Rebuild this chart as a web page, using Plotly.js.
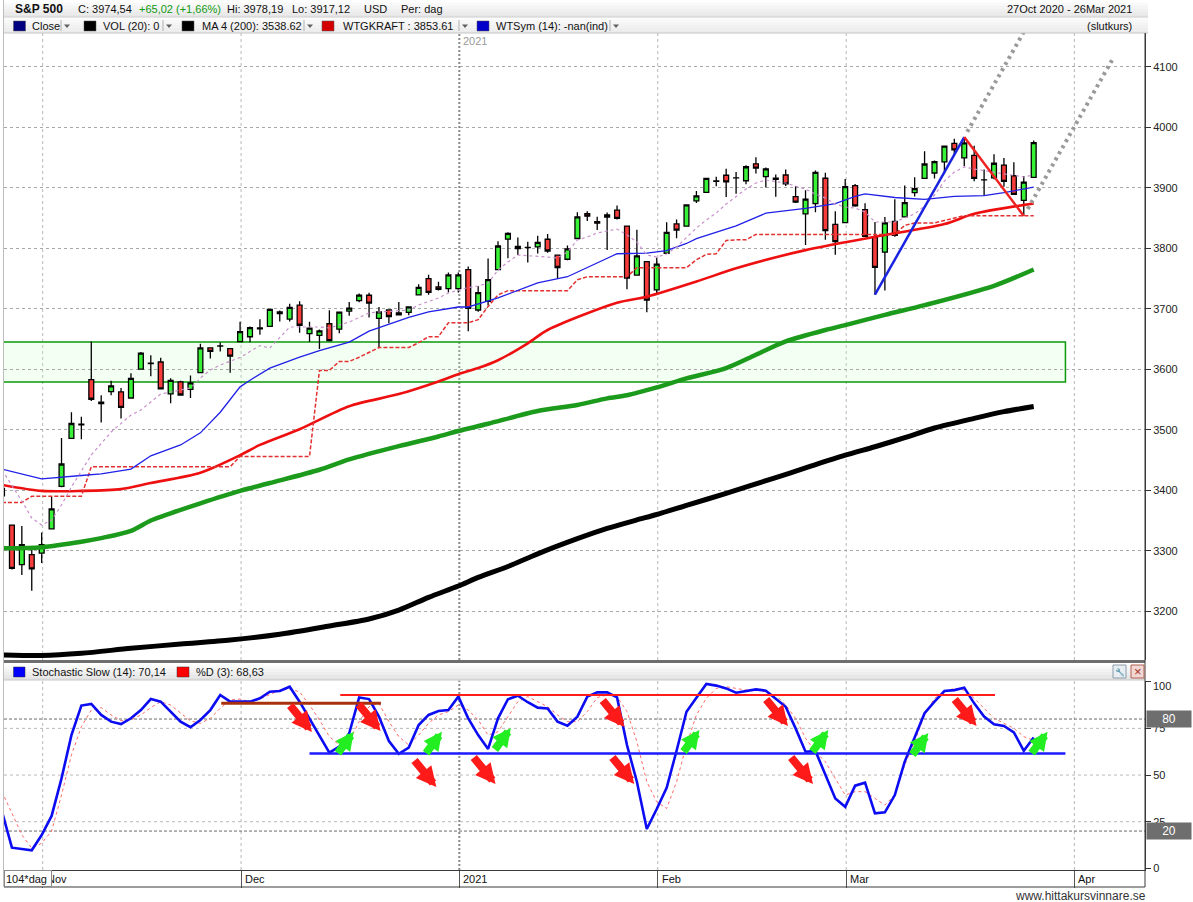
<!DOCTYPE html>
<html><head><meta charset="utf-8">
<script src="https://cdn.plot.ly/plotly-3.0.1.min.js"></script>
<style>html,body{margin:0;padding:0;background:#fff;}#chart{width:1193px;height:902px;}</style>
</head><body><div id="chart"></div>
<script>
// ---------------- DATA ----------------
const dates = ['2020-10-27','2020-10-28','2020-10-29','2020-10-30',
'2020-11-02','2020-11-03','2020-11-04','2020-11-05','2020-11-06','2020-11-09','2020-11-10','2020-11-11','2020-11-12','2020-11-13','2020-11-16','2020-11-17','2020-11-18','2020-11-19','2020-11-20','2020-11-23','2020-11-24','2020-11-25','2020-11-27','2020-11-30',
'2020-12-01','2020-12-02','2020-12-03','2020-12-04','2020-12-07','2020-12-08','2020-12-09','2020-12-10','2020-12-11','2020-12-14','2020-12-15','2020-12-16','2020-12-17','2020-12-18','2020-12-21','2020-12-22','2020-12-23','2020-12-24','2020-12-28','2020-12-29','2020-12-30','2020-12-31',
'2021-01-01',
'2021-01-04','2021-01-05','2021-01-06','2021-01-07','2021-01-08','2021-01-11','2021-01-12','2021-01-13','2021-01-14','2021-01-15','2021-01-19','2021-01-20','2021-01-21','2021-01-22','2021-01-25','2021-01-26','2021-01-27','2021-01-28','2021-01-29',
'2021-02-01','2021-02-02','2021-02-03','2021-02-04','2021-02-05','2021-02-08','2021-02-09','2021-02-10','2021-02-11','2021-02-12','2021-02-16','2021-02-17','2021-02-18','2021-02-19','2021-02-22','2021-02-23','2021-02-24','2021-02-25','2021-02-26',
'2021-03-01','2021-03-02','2021-03-03','2021-03-04','2021-03-05','2021-03-08','2021-03-09','2021-03-10','2021-03-11','2021-03-12','2021-03-15','2021-03-16','2021-03-17','2021-03-18','2021-03-19','2021-03-22','2021-03-23','2021-03-24','2021-03-25','2021-03-26'];

const open = [3403.15,3342.48,3277.17,3293.59,
3296.20,3336.25,3406.46,3485.74,3508.34,3583.04,3543.26,3563.22,3562.67,3552.57,3600.16,3610.31,3612.09,3559.41,3579.31,3566.82,3594.52,3635.50,3638.55,3634.18,
3645.87,3653.78,3668.28,3670.94,3694.73,3683.05,3705.98,3659.13,3656.08,3675.27,3666.41,3696.25,3713.65,3722.39,3684.28,3698.08,3693.42,3694.03,3723.03,3750.01,3736.19,3733.27,
3733.27,
3764.61,3698.02,3712.20,3764.71,3815.05,3803.14,3801.62,3802.23,3814.98,3788.73,3781.88,3816.22,3857.46,3844.24,3851.68,3862.96,3836.83,3755.75,3778.05,
3731.17,3791.84,3840.27,3836.66,3878.30,3892.59,3910.49,3920.78,3916.40,3911.65,3939.61,3918.50,3915.86,3921.16,3885.55,3857.07,3873.71,3915.80,3839.66,
3842.51,3903.64,3863.99,3818.53,3793.58,3844.39,3851.93,3891.99,3915.54,3924.52,3942.96,3973.59,3949.57,3953.50,3913.14,3916.48,3937.60,3919.93,3879.34,3917.12];

const high = [3409.51,3342.48,3341.05,3304.93,
3330.14,3389.49,3486.25,3529.05,3521.58,3645.99,3557.22,3581.16,3569.02,3593.66,3628.51,3623.11,3619.09,3585.22,3581.23,3589.81,3642.31,3635.50,3644.31,3634.18,
3678.45,3670.96,3682.73,3699.20,3697.41,3708.45,3712.39,3678.49,3665.91,3697.61,3695.29,3711.27,3725.12,3726.70,3702.90,3698.26,3711.24,3703.82,3740.51,3756.12,3744.63,3760.20,
3760.20,
3769.99,3737.83,3783.04,3811.55,3826.69,3817.86,3810.78,3820.96,3823.60,3788.73,3804.53,3859.75,3861.45,3852.31,3859.23,3870.90,3836.83,3830.50,3778.05,
3784.32,3843.09,3847.51,3872.42,3894.56,3915.77,3918.35,3931.50,3925.99,3937.23,3950.43,3933.61,3921.98,3930.41,3902.92,3895.98,3928.65,3925.02,3861.08,
3914.50,3906.41,3874.47,3843.67,3851.69,3881.06,3903.76,3917.35,3960.27,3944.99,3970.08,3981.04,3983.87,3969.62,3930.12,3955.31,3949.13,3942.08,3919.54,3978.19];

const low = [3388.71,3268.89,3259.82,3233.94,
3279.74,3336.25,3405.17,3485.74,3484.34,3547.48,3511.91,3557.00,3518.58,3552.57,3600.16,3588.68,3567.33,3543.84,3556.85,3552.77,3594.52,3617.76,3629.33,3594.39,
3645.87,3644.84,3657.17,3670.94,3678.88,3678.83,3660.54,3645.18,3633.40,3645.84,3659.62,3688.57,3710.87,3685.84,3636.48,3676.16,3689.28,3689.32,3723.03,3723.31,3730.21,3726.88,
3726.88,
3662.71,3695.07,3705.34,3764.71,3783.60,3789.02,3776.51,3791.50,3792.86,3749.62,3780.37,3816.22,3845.05,3830.41,3797.16,3847.78,3732.48,3755.75,3694.12,
3725.62,3791.84,3816.68,3836.66,3874.93,3892.59,3902.64,3884.94,3890.39,3905.78,3923.85,3900.43,3885.03,3903.07,3874.71,3805.59,3859.60,3814.04,3789.54,
3842.51,3868.57,3818.86,3723.34,3730.19,3819.25,3851.93,3885.73,3915.54,3915.21,3923.54,3953.44,3935.74,3910.86,3886.75,3914.16,3901.57,3889.07,3853.50,3917.12];

const close = [3390.68,3271.03,3310.11,3269.96,
3310.24,3369.16,3443.44,3510.45,3509.44,3550.50,3545.53,3572.66,3537.01,3585.15,3626.91,3609.53,3567.79,3581.87,3557.54,3577.59,3635.41,3629.65,3638.35,3621.63,
3662.45,3669.01,3666.72,3699.12,3691.96,3702.25,3672.82,3668.10,3663.46,3647.49,3694.62,3701.17,3722.48,3709.41,3694.92,3687.26,3690.01,3703.06,3735.36,3727.04,3732.04,3756.07,
3756.07,
3700.65,3726.86,3748.14,3803.79,3824.68,3799.61,3801.19,3809.84,3795.54,3768.25,3798.91,3851.85,3853.07,3841.47,3855.36,3849.62,3750.77,3787.38,3714.24,
3773.86,3826.31,3830.17,3871.74,3886.83,3915.59,3911.23,3909.88,3916.38,3934.83,3932.59,3931.33,3913.97,3906.71,3876.50,3881.37,3925.43,3829.34,3811.15,
3901.82,3870.29,3819.72,3768.47,3841.94,3821.35,3875.44,3898.81,3939.34,3943.34,3968.94,3962.71,3974.12,3915.46,3913.10,3940.59,3910.52,3889.14,3909.52,3974.54];

// MA 200 (black), read at bar index
const ma200Idx = [0,4,8,13,18,23,28,33,37,40,43,46,48,51,54,58,61,64,66,69,73,78,81,85,88,91,94,98,101,104];
const ma200Val = [3128,3127,3130.6,3138.8,3145.9,3152.5,3162,3175.7,3187.3,3202,3223,3241.8,3256,3274,3295,3320,3337,3351,3360,3375,3395,3421,3437,3458,3472,3487,3503,3519,3530,3538.6];
// green long MA
const maGreenIdx = [0,4,8,10,13,15,17,20,24,27,32,35,40,44,46,49,54,58,61,63,66,69,73,76,79,83,85,89,93,100,104];
const maGreenVal = [3304,3306,3315,3321,3333,3350,3362,3378.5,3399,3412,3434,3451,3473,3489,3498,3510,3531,3541,3552,3557,3570,3585,3602,3624,3646,3665,3673,3690,3706,3738,3765];
// red medium MA
const maRedIdx = [0,4,8,12,15,20,24,26,30,35,40,44,46,48,50,53,55,62,65,70,74,81,88,95,98,104];
const maRedVal = [3409,3399,3399,3402,3412,3429,3458,3475,3501,3539,3559,3580,3592,3602,3615,3643,3665,3710,3720,3745,3767,3797,3819,3840,3857,3874];
// blue thin MA
const maBlueIdx = [0,4,8,10,13,15,18,20,22,24,25,27,30,32,35,37,41,43,46,47,50,54,57,60,62,65,67,69,70,74,77,81,84,86,87,90,93,96,99,101,104];
const maBlueVal = [3435,3419,3424.5,3427,3435,3457,3475,3495,3529,3571,3582,3602,3620,3631,3645,3663,3686,3695,3703,3703,3718,3743,3753,3776,3791,3792,3796,3808,3816,3837,3858,3866,3874,3886,3890,3884,3881,3886,3887,3892,3901];
// pink dotted short MA
const maPinkIdx = [0,2,3,4,5,6,7,9,11,13,14,16,17,19,20,21,22,24,26,27,29,31,32,33,35,37,38,41,42,44,45,47,48,49,50,51,52,55,56,57,58,59,60,62,63,64,65,66,67,68,69,70,71,72,73,75,76,77,79,80,81,82,83,84,85,86,87,88,90,92,93,94,95,96,97,98,100,102,103,104];
const maPinkVal = [3433.6,3382.3,3354.2,3342.6,3350.9,3375.7,3405.5,3458.3,3496.4,3524.5,3532.7,3559.2,3562.5,3569.1,3585.6,3598.8,3607.1,3619.5,3639.3,3635.2,3669.9,3669.9,3669.9,3668.3,3678.2,3693.1,3694.7,3698,3706.3,3717.9,3726.1,3735.2,3737.7,3742.6,3764.1,3777.4,3788.9,3785.6,3784,3793.9,3813.7,3818.7,3825.3,3831.9,3822,3810.4,3788.9,3785.6,3790.6,3802.1,3818.7,3833.6,3846.8,3858.3,3873.2,3898,3907.9,3912.9,3907.9,3902.8,3897.8,3889.6,3883,3873.2,3868.3,3866.6,3860,3843.5,3843.5,3856.7,3870,3888.1,3911.2,3926.1,3934.4,3931.1,3926.1,3921.2,3917.9,3921.2];
// WTGKRAFT step line (one value per bar)
const wtgKraft = [3380,3380,3380,3390,3390,3390,3390,3390,3390,
3439,3439,3439,3439,3439,3439,3439,3439,3439,3439,3439,3439,3439,3439,3439,
3456,3456,3456,3456,3456,3456,3456,3456,
3598,3598,3613,3613,3620,3628,3636,3636,3636,3636,3644,3654,3654,3677,3677,3677,3682,3704,3723,
3730,3730,3730,3730,3730,3730,3730,3748,3753,3753,3753,3753,3753,
3768,3768,3768,3768,3768,3768,3781,3790,3791,3813,3814,3814,
3823,3823,3823,3823,3823,3823,3823,3823,3823,3823,3823,3823,3823,3823,3823,
3838,3842,3842,3842,3846,3850,3854,3854,3854,3854,3854,3854,3854,3854];
// Stochastic slow %K and %D
const stochK = [30.4,11.1,10.4,9.7,17.9,28.1,48.2,71.4,87.2,88.1,82.2,78.6,77.3,80.4,84.8,90.7,89.3,83.9,78.6,75.6,79.5,84.8,92.9,89.3,89.3,89.3,91.1,94.6,95,97.3,89.3,80.4,71.4,62,65.2,72.4,91.6,90.7,81.3,68.2,61.4,64.7,76.8,82.2,84.3,84.8,92,80.4,71.4,64,80.4,90.6,92.5,89,86.1,85.7,78.6,76.4,81.3,92,94.3,94.3,91.6,66.1,46.4,21.1,31.8,43.2,63,83.9,91.4,98.8,97.9,96.4,94.1,95,95.9,95.2,90.7,86.6,75,62.5,62.9,50,37.5,33,44.3,45.9,29.5,30,39.3,57.2,69.7,83.1,89.3,95,95.5,96.8,88.4,81.3,77.2,76.3,72.9,63,70.1];
const stochD = [41.1,30,18,10.8,13.5,20,39.3,60.7,75.9,84.8,86.1,82.2,79.1,79.5,82.2,86.1,89.3,87.5,83.1,79,77.7,80.4,85.7,90.2,90.7,89.3,90.7,92.9,95.5,96,94.6,87.5,79.5,70.6,66.1,68.2,78.6,86.6,88.4,78.6,70.6,66.1,71.4,77.7,82.2,84,87.5,84.8,79.5,71.4,73.2,81.3,89.3,92,89.3,86.6,82.2,78.6,78.6,84,91.5,92.9,92,84,67.9,46.4,35.7,32.1,46.4,66.1,82.2,91.1,96.4,97.3,96.4,95.5,95.5,94.6,92.9,87.5,80.4,69.7,62.5,57.1,48.2,39.3,41.1,41.1,37.5,33.9,39.3,55.4,67.9,82.2,91.1,94.6,96.4,95.5,91.1,85.7,80.4,77.7,75,70.6,68.6];

// axis ticks
const monthIdx = [4,24,46,66,85,108];
const monthText = ['Nov','Dec','2021','Feb','Mar','Apr'];
const priceTicks = [3200,3300,3400,3500,3600,3700,3800,3900,4000,4100];
const stochTicks = [0,25,50,75,100];
// drawn levels
const bandLow = 3579, bandHigh = 3645;
const trendIdx = [88,97,103];                 // Mar 4 low, Mar 17 high, Mar 25 low
const stochLevels = [ {from:22.1,to:38.2,v:88.4,c:'#a8300c',w:3},
                      {from:34.1,to:100.1,v:92.9,c:'#ff1c1c',w:2},
                      {from:31.0,to:107.2,v:61.6,c:'#1c1cff',w:2.5} ];
const redArrowTips = [[31.24,73.1],[38.16,73.6],[43.78,43.6],[49.75,45.2],[62.75,75.7],[63.73,45.2],[79.23,76.3],[81.75,45.2],[98.24,76.3]];
const greenArrowTips = [[35.46,73.2],[44.35,73.2],[51.29,75.2],[70.31,74.1],[83.3,74.1],[93.38,72.5],[105.4,73.2]];

// ---------------- GEOMETRY HELPERS ----------------
const L=4, R=1145, T=33, B=870;
const px = x => (x-L)/(R-L);
const py = y => (B-y)/(B-T);
const xIdx = dates.map((d,i)=>i);
function mix(c0,c1,t){const a=[1,3,5].map(i=>parseInt(c0.substr(i,2),16)),b=[1,3,5].map(i=>parseInt(c1.substr(i,2),16));return 'rgb('+a.map((v,i)=>Math.round(v+(b[i]-v)*t)).join(',')+')';}
function rectPx(x0,y0,x1,y1,fill,lc,lw){return {type:'rect',xref:'paper',yref:'paper',x0:px(x0),x1:px(x1),y0:py(y1),y1:py(y0),fillcolor:fill,line:{color:lc||'rgba(0,0,0,0)',width:lw||0},layer:'above'};}
function linePx(x0,y0,x1,y1,c,w,dash){return {type:'line',xref:'paper',yref:'paper',x0:px(x0),x1:px(x1),y0:py(y0),y1:py(y1),line:{color:c,width:w||1,dash:dash||'solid'},layer:'above'};}
function grad(x0,y0,x1,y1,c0,c1,n){const o=[];for(let i=0;i<n;i++){o.push(rectPx(x0,y0+(y1-y0)*i/n,x1,y0+(y1-y0)*(i+1)/n,mix(c0,c1,i/(n-1))));}return o;}

// ---------------- TRACES ----------------
const traces = [
 {type:'scatter',mode:'lines',x:ma200Idx,y:ma200Val,line:{color:'#000',width:5,shape:'spline',smoothing:0.8},xaxis:'x',yaxis:'y',hoverinfo:'skip'},
 {type:'scatter',mode:'lines',x:maGreenIdx,y:maGreenVal,line:{color:'#1c9a1c',width:4.5,shape:'spline',smoothing:0.8},xaxis:'x',yaxis:'y',hoverinfo:'skip'},
 {type:'scatter',mode:'lines',x:maRedIdx,y:maRedVal,line:{color:'#ee1010',width:2.6,shape:'spline',smoothing:0.8},xaxis:'x',yaxis:'y',hoverinfo:'skip'},
 {type:'scatter',mode:'lines',x:xIdx,y:wtgKraft,line:{color:'#e23030',width:1.5,dash:'4px,2px'},xaxis:'x',yaxis:'y',hoverinfo:'skip'},
 {type:'scatter',mode:'lines',x:maBlueIdx,y:maBlueVal,line:{color:'#2020e6',width:1.3},xaxis:'x',yaxis:'y',hoverinfo:'skip'},
 {type:'scatter',mode:'lines',x:maPinkIdx,y:maPinkVal,line:{color:'#c890cc',width:1.2,dash:'dot'},xaxis:'x',yaxis:'y',hoverinfo:'skip'},
 {type:'candlestick',x:xIdx,open:open,high:high,low:low,close:close,xaxis:'x',yaxis:'y',whiskerwidth:0,
  increasing:{line:{color:'#000',width:1.3},fillcolor:'#38f238'},
  decreasing:{line:{color:'#000',width:1.3},fillcolor:'#f83c3c'},hoverinfo:'skip'},
 {type:'scatter',mode:'lines',x:xIdx,y:stochD,line:{color:'#ff6a6a',width:1,dash:'dot'},xaxis:'x',yaxis:'y2',hoverinfo:'skip'},
 {type:'scatter',mode:'lines',x:xIdx,y:stochK,line:{color:'#0c0cf2',width:2.6},xaxis:'x',yaxis:'y2',hoverinfo:'skip'}
];

// ---------------- SHAPES ----------------
const shapes = [];
monthIdx.forEach((m,i)=>{
  const yr = monthText[i]==='2021';
  ['y domain','y2 domain'].forEach(r=>shapes.push({type:'line',xref:'x',yref:r,x0:m+0.1,x1:m+0.1,y0:0,y1:1,layer:'below',
     line:{color:yr?'#8a8a8a':'#b8b8b8',width:yr?2:1,dash:yr?'2px,2px':'dot'}}));
});
[25,50,75].forEach(v=>shapes.push({type:'line',xref:'paper',yref:'y2',x0:0,x1:1,y0:v,y1:v,layer:'below',line:{color:'#b8b8b8',width:1,dash:'dot'}}));
[80,20].forEach(v=>shapes.push({type:'line',xref:'paper',yref:'y2',x0:0,x1:1,y0:v,y1:v,layer:'below',line:{color:'#6a6a6a',width:1,dash:'3px,2px'}}));
shapes.push({type:'rect',xref:'x',yref:'y',x0:-2,x1:107.2,y0:bandLow,y1:bandHigh,fillcolor:'rgba(200,255,200,0.22)',line:{color:'#0a9a0a',width:1.5},layer:'below'});
const tA=[trendIdx[0],low[trendIdx[0]]], tB=[trendIdx[1],high[trendIdx[1]]], tC=[trendIdx[2],low[trendIdx[2]]];
const slope=(tB[1]-tA[1])/(tB[0]-tA[0]);
shapes.push({type:'line',xref:'x',yref:'y',x0:tB[0]+0.3,y0:tB[1]+0.3*slope,x1:116,y1:tB[1]+(116-tB[0])*slope,line:{color:'#9a9a9a',width:4,dash:'3px,4px'},layer:'above'});
shapes.push({type:'line',xref:'x',yref:'y',x0:tC[0]+0.4,y0:tC[1]+0.4*slope,x1:112,y1:tC[1]+(112-tC[0])*slope,line:{color:'#9a9a9a',width:4,dash:'3px,4px'},layer:'above'});
shapes.push({type:'line',xref:'x',yref:'y',x0:tA[0],y0:tA[1],x1:tB[0],y1:tB[1],line:{color:'#1a24e0',width:2.5},layer:'above'});
shapes.push({type:'line',xref:'x',yref:'y',x0:tB[0],y0:tB[1],x1:tC[0],y1:tC[1],line:{color:'#ee2222',width:2.5},layer:'above'});
stochLevels.forEach(s=>shapes.push({type:'line',xref:'x',yref:'y2',x0:s.from,x1:s.to,y0:s.v,y1:s.v,line:{color:s.c,width:s.w},layer:'above'}));
shapes.push(...grad(4,0,1148,17,'#fefefe','#e6e6e6',6));
shapes.push(...grad(4,17,1148,33,'#fbfbfb','#ebebeb',6));
shapes.push(linePx(4,17,1148,17,'#d0d0d0',1));
shapes.push(linePx(4,33,1148,33,'#c4c4c4',1));
shapes.push(rectPx(4,660,1145,663,'#6e6e6e'));
shapes.push(...grad(4,663,1145,680,'#ffffff','#e2e2e2',6));
shapes.push(linePx(4,680,1145,680,'#c8c8c8',1));
shapes.push(linePx(3.5,0,3.5,887,'#bdbdbd',1));
shapes.push(linePx(1145,33,1145,887,'#3a3a3a',1));
shapes.push(linePx(4,887,1145,887,'#3a3a3a',1));
const legSq=[[13.5,'#000080'],[84,'#000000'],[182,'#000000'],[322,'#d40000'],[477,'#0000c8']];
legSq.forEach(s=>shapes.push(rectPx(s[0],21,s[0]+12,31,s[1],'#555',0.5)));
[61,163,304,459,610].forEach(x=>{
  shapes.push(linePx(x,20,x,31,'#b0b0b0',1));
  shapes.push({type:'path',xref:'paper',yref:'paper',path:`M${px(x+3)},${py(24.5)} L${px(x+9)},${py(24.5)} L${px(x+6)},${py(28)} Z`,fillcolor:'#606060',line:{width:0},layer:'above'});
});
shapes.push(rectPx(13.5,667,25,677,'#0000ff','#333',0.5));
shapes.push(rectPx(177,667,189,677,'#ff0000','#333',0.5));
shapes.push(rectPx(1113,665,1126,678,'#e9eef3','#8a9aaa',1));
shapes.push(rectPx(1131,665,1144,678,'#f1d8d4','#b06050',1));

// ---------------- ANNOTATIONS ----------------
const F='Liberation Sans, Arial, sans-serif';
const ann = [];
function txt(x,y,t,o){ann.push(Object.assign({xref:'paper',yref:'paper',x:px(x),y:py(y),text:t,showarrow:false,xanchor:'left',yanchor:'middle',font:{family:F,size:11,color:'#111'}},o||{}));}
txt(13,9,'<b>S&amp;P 500</b>',{font:{family:F,size:12,color:'#111'}});
txt(76,9,'C: 3974,54');
txt(137,9,'+65,02 (+1,66%)',{font:{family:F,size:11,color:'#119911'}});
txt(225,9,'Hi: 3978,19');
txt(290,9,'Lo: 3917,12');
txt(362,9,'USD');
txt(399,9,'Per: dag');
txt(1134,9,'27Oct 2020 - 26Mar 2021',{xanchor:'right'});
txt(30,26,'Close');
txt(101,26,'VOL (20): 0');
txt(200,26,'MA 4 (200): 3538.62');
txt(341,26,'WTGKRAFT : 3853.61');
txt(494,26,'WTSym (14): -nan(ind)');
txt(1134,26,'(slutkurs)',{xanchor:'right'});
txt(30,672,'Stochastic Slow (14): 70,14');
txt(194,672,'%D (3): 68,63');
txt(1137.5,671.5,'×',{xanchor:'center',font:{family:F,size:13,color:'#a03020'}});
txt(1119.5,671.5,'🔧',{xanchor:'center',font:{family:F,size:8,color:'#506070'}});
txt(1151,686,String(stochTicks[4]),{font:{family:F,size:11,color:'#222'}});
ann.push({xref:'x',yref:'paper',x:monthIdx[2],y:py(41),xanchor:'left',yanchor:'middle',xshift:3,text:monthText[2],showarrow:false,font:{family:F,size:11,color:'#9a9a9a'}});
monthIdx.forEach((m,i)=>ann.push({xref:'x',yref:'paper',x:m,y:py(879),xanchor:'left',yanchor:'middle',xshift:3,text:monthText[i],showarrow:false,font:{family:F,size:11,color:'#111'}}));
txt(4,878.5,'104*dag',{bgcolor:'#ffffff',bordercolor:'#8a8a8a',borderwidth:1,borderpad:1,width:44,height:13,align:'left'});
[80,20].forEach(v=>ann.push({xref:'paper',yref:'y2',x:1,y:v,xanchor:'left',yanchor:'middle',xshift:1,text:String(v),showarrow:false,bgcolor:'#6e6e6e',width:42,height:14,font:{family:F,size:12,color:'#fff'}}));
txt(1148,896,'www.hittakursvinnare.se',{xanchor:'right',font:{family:F,size:12,color:'#333'}});
redArrowTips.forEach(p=>ann.push({xref:'x',yref:'y2',x:p[0],y:p[1],ax:-23,ay:-28,text:'',showarrow:true,arrowhead:2,arrowsize:0.5,arrowwidth:8,arrowcolor:'#ff1a1a',standoff:0}));
greenArrowTips.forEach(p=>ann.push({xref:'x',yref:'y2',x:p[0],y:p[1],ax:-17,ay:23,text:'',showarrow:true,arrowhead:2,arrowsize:0.46,arrowwidth:8,arrowcolor:'#22ee22',standoff:0}));

// ---------------- LAYOUT ----------------
const layout = {
  width:1193,height:902,margin:{l:L,r:1193-R,t:T,b:902-B,pad:0},
  paper_bgcolor:'#ffffff',plot_bgcolor:'#ffffff',showlegend:false,hovermode:false,
  font:{family:F,size:11,color:'#111'},
  xaxis:{domain:[0,1],range:[0.2016,115.22],anchor:'y2',showgrid:false,zeroline:false,
    tickmode:'array',tickvals:monthIdx.map(m=>m+0.1),ticktext:monthIdx.map(()=>''),ticks:'outside',ticklen:17,tickcolor:'#555',tickwidth:1,
    showline:true,linecolor:'#3a3a3a',linewidth:1,rangeslider:{visible:false},fixedrange:true},
  yaxis:{domain:[py(660),1],range:[3119.5,4155.9],side:'right',anchor:'x',tickmode:'array',tickvals:priceTicks,ticktext:priceTicks.map(String),
    ticks:'outside',ticklen:5,tickcolor:'#333',showgrid:true,gridcolor:'#a8a8a8',griddash:'dot',gridwidth:1,zeroline:false,
    showline:true,linecolor:'#3a3a3a',tickfont:{family:F,size:11,color:'#222'},fixedrange:true},
  yaxis2:{domain:[0,py(680.5)],range:[-0.857,100.64],side:'right',anchor:'x',tickmode:'array',tickvals:stochTicks,ticktext:stochTicks.map((v,i)=>i===4?'':String(v)),
    ticks:'outside',ticklen:5,tickcolor:'#333',showgrid:false,zeroline:false,showline:true,linecolor:'#3a3a3a',
    tickfont:{family:F,size:11,color:'#222'},fixedrange:true},
  shapes:shapes,annotations:ann
};
Plotly.newPlot('chart',traces,layout,{displayModeBar:false,staticPlot:true});
</script></body></html>
